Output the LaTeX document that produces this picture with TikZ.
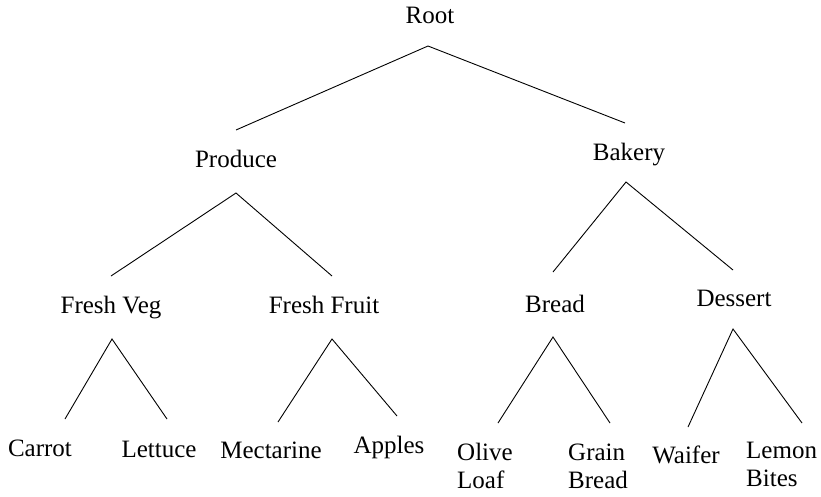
\documentclass[tikz,border=0pt]{standalone}
\usepackage{fontspec}
\setmainfont{Liberation Serif}
\begin{document}
\begin{tikzpicture}[x=1pt,y=-1pt,
  lbl/.style={anchor=base,inner sep=0pt,font=\fontsize{25}{28}\selectfont},
  twoline/.style={lbl,anchor=base west,align=left},
  branch/.style={draw=black,line width=0.9pt}]
\useasboundingbox (0,0) rectangle (821,496);

% category labels
\node[lbl] (root)    at (430,23.5) {Root};
\node[lbl] (produce) at (236,167)  {Produce};
\node[lbl] (bakery)  at (629,160)  {Bakery};
\node[lbl] (veg)     at (111,313)  {Fresh Veg};
\node[lbl] (fruit)   at (324,313)  {Fresh Fruit};
\node[lbl] (bread)   at (555,312)  {Bread};
\node[lbl] (dessert) at (734,306)  {Dessert};

% leaf labels (two-line ones are placed by their last baseline)
\node[lbl] (carrot)  at (40,456)  {Carrot};
\node[lbl] (lettuce) at (159,457) {Lettuce};
\node[lbl] (mect)    at (271,458) {Mectarine};
\node[lbl] (apples)  at (389,453) {Apples};
\node[twoline] (olive) at (457,488) {Olive\\Loaf};
\node[twoline] (grain) at (568,488) {Grain\\Bread};
\node[lbl] (waifer)  at (686,463) {Waifer};
\node[twoline] (lemon) at (746,486) {Lemon\\Bites};

% branches
\draw[branch] ([shift={(0,-37)}]produce.base) -- ([shift={(-2,22.5)}]root.base) -- ([shift={(-4,-37)}]bakery.base);
\draw[branch] ([shift={(0,-37)}]veg.base) -- ([shift={(0,26)}]produce.base) -- ([shift={(8,-37)}]fruit.base);
\draw[branch] ([shift={(-2,-40)}]bread.base) -- ([shift={(-3,22)}]bakery.base) -- ([shift={(-1,-36)}]dessert.base);
\draw[branch] ([shift={(25,-37)}]carrot.base) -- ([shift={(1,26)}]veg.base) -- ([shift={(8,-38)}]lettuce.base);
\draw[branch] ([shift={(7,-36)}]mect.base) -- ([shift={(8,26)}]fruit.base) -- ([shift={(8,-37)}]apples.base);
\draw[branch] ([shift={(41,-65)}]olive.base west) -- ([shift={(-2,25)}]bread.base) -- ([shift={(42,-65)}]grain.base west);
\draw[branch] ([shift={(2,-36)}]waifer.base) -- ([shift={(-1,23)}]dessert.base) -- ([shift={(56,-63)}]lemon.base west);
\end{tikzpicture}
\end{document}
